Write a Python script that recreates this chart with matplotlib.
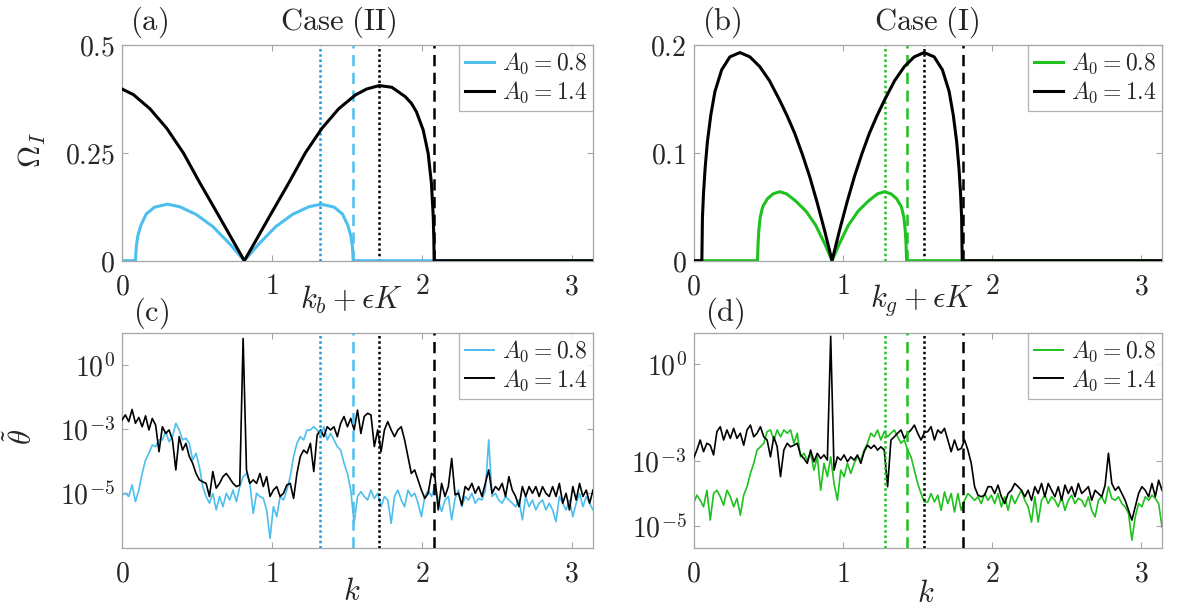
import numpy as np
import matplotlib
matplotlib.use("Agg")
import matplotlib.pyplot as plt

plt.rcParams['mathtext.fontset'] = 'cm'
plt.rcParams['font.family'] = ['DejaVu Serif']

# ---------------- data: top row (growth rates) ----------------
# panel (a), A0 = 0.8 (blue)
ka_blue = [0, 0.09, 0.092, 0.096, 0.106, 0.126, 0.161, 0.216, 0.303, 0.386, 0.496, 0.606, 0.716, 0.816,
           0.916, 1.026, 1.136, 1.246, 1.329, 1.416, 1.471, 1.506, 1.526, 1.536, 1.54, 1.542, np.pi]
Oa_blue = [0, 0, 0.015, 0.035, 0.058, 0.082, 0.108, 0.124, 0.131, 0.125, 0.107, 0.079, 0.040, 0.0,
           0.040, 0.079, 0.107, 0.125, 0.131, 0.124, 0.108, 0.082, 0.058, 0.035, 0.015, 0, 0]
# panel (a), A0 = 1.4 (black)
ka_black = [0, 0.076, 0.187, 0.298, 0.409, 0.52, 0.631, 0.742, 0.816, 0.89, 1.001, 1.112, 1.223, 1.334,
            1.445, 1.556, 1.632, 1.716, 1.80, 1.89, 1.93, 1.964, 2.009, 2.042, 2.064, 2.076, 2.080, 2.082, np.pi]
Oa_black = [0.398, 0.385, 0.352, 0.307, 0.25, 0.18, 0.113, 0.045, 0.0, 0.045, 0.113, 0.18, 0.25, 0.307,
            0.352, 0.384, 0.398, 0.406, 0.402, 0.380, 0.365, 0.345, 0.303, 0.249, 0.179, 0.102, 0.05, 0, 0]
# panel (b), A0 = 0.8 (green)
kb_green = [0, 0.429, 0.433, 0.438, 0.447, 0.464, 0.496, 0.534, 0.577, 0.624, 0.684, 0.754, 0.819, 0.879, 0.929,
            0.979, 1.039, 1.104, 1.174, 1.234, 1.281, 1.324, 1.362, 1.394, 1.411, 1.42, 1.425, 1.429, np.pi]
Ob_green = [0, 0, 0.016, 0.028, 0.040, 0.050, 0.0575, 0.062, 0.064, 0.062, 0.0555, 0.046, 0.033, 0.016, 0.0,
            0.016, 0.033, 0.046, 0.0555, 0.062, 0.064, 0.062, 0.0575, 0.050, 0.040, 0.028, 0.016, 0, 0]
# panel (b), A0 = 1.4 (black)
kb_black = [0, 0.056, 0.058, 0.06, 0.067, 0.078, 0.093, 0.116, 0.144, 0.189, 0.244, 0.311, 0.378, 0.444, 0.509,
            0.577, 0.629, 0.679, 0.729, 0.779, 0.829, 0.879, 0.929, 0.979, 1.029, 1.079, 1.129, 1.179, 1.229,
            1.281, 1.349, 1.414, 1.48, 1.547, 1.614, 1.669, 1.714, 1.742, 1.765, 1.78, 1.791, 1.798, 1.800,
            1.802, np.pi]
Ob_black = [0, 0, 0.02, 0.040, 0.062, 0.086, 0.110, 0.135, 0.157, 0.177, 0.189, 0.193, 0.189, 0.180, 0.167,
            0.149, 0.134, 0.118, 0.099, 0.078, 0.054, 0.028, 0.0, 0.028, 0.054, 0.078, 0.099, 0.118, 0.134,
            0.149, 0.167, 0.180, 0.189, 0.193, 0.189, 0.177, 0.157, 0.135, 0.110, 0.086, 0.062, 0.040, 0.02,
            0, 0]

# marker wavenumbers (vertical lines)
a_vlines = {'blue_dot': 1.324, 'blue_dash': 1.542, 'black_dot': 1.716, 'black_dash': 2.082}
b_vlines = {'green_dot': 1.282, 'green_dash': 1.433, 'black_dot': 1.549, 'black_dash': 1.807}

# ---------------- data: bottom row (spectra, log10 values on k grid) ----------------
k_spec = np.linspace(0, np.pi, 141)

theta_c_black_log = [
    -2.72, -2.56, -2.77, -2.39, -2.82, -2.64, -2.93, -2.59, -3.03, -2.67,
    -2.88, -3.71, -2.93, -3.14, -3.03, -3.34, -4.28, -3.24, -3.66, -3.45,
    -3.86, -4.07, -4.39, -4.59, -4.65, -4.70, -5.11, -4.33, -4.85, -4.70,
    -4.49, -4.39, -4.54, -4.70, -4.80, -4.75, -0.17, -4.28, -4.70, -4.59,
    -4.70, -4.39, -4.80, -4.49, -5.11, -4.91, -4.80, -5.11, -5.01, -4.75,
    -4.70, -5.17, -4.39, -3.86, -3.66, -3.76, -3.45, -4.33, -3.19, -3.03,
    -3.24, -2.93, -3.03, -2.93, -3.24, -2.82, -2.61, -2.93, -2.67, -3.03,
    -2.41, -3.14, -2.61, -2.51, -2.56, -3.55, -3.03, -3.71, -3.03, -2.77,
    -3.03, -3.24, -3.03, -2.93, -3.34, -3.86, -4.39, -4.28, -4.59, -4.91,
    -5.17, -5.01, -4.39, -4.49, -5.53, -4.70, -5.11, -4.80, -3.92, -5.06,
    -5.01, -5.38, -4.80, -4.91, -4.70, -5.01, -4.80, -5.11, -4.70, -4.28,
    -5.01, -4.80, -4.91, -4.70, -5.11, -4.49, -4.91, -5.11, -5.43, -4.80,
    -5.11, -4.80, -5.01, -4.80, -5.11, -4.80, -5.01, -5.11, -4.80, -5.11,
    -4.70, -5.32, -5.01, -5.53, -4.80, -5.22, -4.70, -5.11, -4.91, -5.32,
    -4.91]

theta_c_blue_log = [
    -5.06, -5.01, -5.11, -4.75, -5.27, -4.91, -4.39, -3.97, -3.76, -3.50,
    -3.55, -3.34, -3.34, -3.08, -3.40, -3.24, -2.82, -3.03, -3.34, -3.29,
    -3.45, -3.97, -3.76, -4.18, -4.80, -5.11, -5.32, -5.01, -5.53, -5.11,
    -5.43, -5.01, -5.22, -4.91, -5.27, -4.80, -4.49, -4.39, -4.70, -5.64,
    -5.01, -5.11, -5.17, -5.53, -6.42, -5.43, -5.74, -5.11, -5.22, -4.91,
    -4.49, -3.86, -3.45, -3.24, -3.34, -3.03, -3.03, -2.93, -3.03, -3.24,
    -2.93, -3.34, -3.14, -3.34, -3.55, -3.66, -4.07, -4.39, -4.91, -5.95,
    -5.11, -4.96, -5.11, -5.22, -4.91, -5.17, -5.01, -5.43, -5.11, -5.22,
    -5.95, -5.11, -4.91, -5.22, -5.43, -4.91, -5.11, -5.01, -5.32, -5.74,
    -5.11, -4.91, -5.11, -4.80, -5.22, -5.58, -5.22, -5.11, -5.84, -5.17,
    -4.91, -5.43, -5.11, -5.22, -5.01, -5.32, -5.17, -5.22, -4.91, -3.34,
    -5.11, -5.01, -5.22, -5.32, -5.11, -5.22, -5.32, -5.43, -5.22, -5.84,
    -5.11, -5.43, -5.22, -5.53, -5.32, -5.22, -5.53, -5.32, -5.53, -5.90,
    -5.11, -5.32, -5.53, -5.22, -5.74, -5.32, -5.01, -5.43, -5.11, -5.32,
    -5.53]

theta_d_black_log = [
    -2.92, -2.66, -2.35, -2.71, -2.45, -2.51, -2.81, -2.09, -1.94, -2.35,
    -2.04, -2.30, -1.99, -2.30, -2.14, -2.51, -2.04, -1.89, -2.25, -2.14,
    -1.94, -2.25, -2.35, -2.87, -2.25, -2.56, -3.48, -2.66, -2.45, -2.56,
    -2.51, -2.45, -2.81, -2.92, -3.07, -2.66, -3.02, -2.76, -2.92, -2.81,
    -2.97, 0.85, -3.28, -2.87, -2.97, -2.81, -3.02, -2.87, -2.97, -2.81,
    -3.07, -2.71, -2.51, -2.61, -2.51, -2.66, -2.56, -2.66, -3.79, -2.35,
    -2.25, -2.14, -2.04, -2.30, -2.14, -2.04, -1.89, -2.14, -2.35, -2.12,
    -2.09, -1.94, -2.35, -2.04, -2.14, -1.99, -2.35, -2.71, -2.35, -2.66,
    -2.61, -2.35, -2.66, -3.07, -3.79, -4.05, -4.10, -4.05, -3.79, -3.79,
    -4.00, -3.74, -4.10, -4.31, -4.00, -3.90, -3.69, -3.79, -3.90, -4.10,
    -3.90, -4.21, -3.79, -4.00, -3.69, -4.10, -3.69, -3.90, -4.10, -3.79,
    -4.21, -3.74, -4.00, -3.79, -4.10, -3.69, -4.00, -3.90, -3.79, -4.21,
    -3.90, -4.00, -4.10, -3.74, -2.76, -3.69, -3.90, -3.79, -4.00, -4.21,
    -4.52, -4.82, -4.41, -4.00, -3.79, -3.90, -4.10, -3.69, -4.10, -3.59,
    -3.90]

theta_d_green_log = [
    -4.31, -4.05, -4.21, -4.41, -3.90, -4.82, -4.00, -3.90, -4.10, -4.36,
    -3.90, -4.10, -4.41, -4.15, -4.67, -4.05, -3.79, -3.38, -3.07, -2.66,
    -2.56, -2.45, -2.09, -2.04, -2.35, -2.04, -2.25, -2.04, -2.14, -2.04,
    -2.45, -2.14, -2.87, -2.76, -2.97, -2.76, -3.28, -2.87, -3.90, -3.07,
    -3.48, -2.87, -3.69, -4.21, -3.28, -3.48, -3.07, -3.38, -3.07, -2.87,
    -2.97, -2.66, -2.45, -2.14, -2.25, -2.04, -2.35, -2.09, -2.25, -2.14,
    -2.04, -2.25, -2.45, -2.35, -2.66, -2.87, -3.28, -3.69, -4.00, -4.26,
    -4.26, -4.00, -4.26, -4.05, -4.52, -3.95, -4.31, -4.00, -4.57, -4.00,
    -4.52, -4.21, -4.00, -4.10, -4.21, -4.10, -4.31, -4.00, -4.21, -4.05,
    -4.31, -4.00, -4.41, -4.10, -4.52, -4.05, -4.31, -4.10, -3.90, -4.21,
    -4.41, -4.88, -4.10, -4.88, -4.21, -4.05, -4.31, -4.10, -4.21, -4.41,
    -4.10, -4.52, -4.21, -4.05, -4.31, -4.15, -4.21, -4.41, -4.10, -4.52,
    -4.72, -4.21, -4.10, -4.31, -3.79, -4.15, -4.21, -4.10, -4.31, -4.41,
    -4.62, -5.44, -4.72, -4.31, -4.41, -4.10, -4.21, -4.05, -4.15, -4.31,
    -5.03]

x_ticks = [0, 1, 2, 3]
x_ticklabels = ['$0$', '$1$', '$2$', '$3$']

BLUE = '#4DBEEE'
BLUE_DOT = '#1E9AD6'
GREEN = '#1EC11E'
BLACK = '#000000'
SPINE = '#a6a6a6'
TXT = '#262626'

W, H = 1184, 614
fig = plt.figure(figsize=(W / 100, H / 100), dpi=100)

def rect(x0, y0, x1, y1):
    return [x0 / W, 1 - y1 / H, (x1 - x0) / W, (y1 - y0) / H]

axA = fig.add_axes(rect(122, 45, 593, 260.7))
axB = fig.add_axes(rect(693.5, 45, 1162, 260.7))
axC = fig.add_axes(rect(122, 332.7, 593, 548.3))
axD = fig.add_axes(rect(693.5, 332.7, 1162, 548.3))

def style(ax):
    for s in ax.spines.values():
        s.set_color(SPINE)
        s.set_linewidth(0.9)
    ax.tick_params(which='both', direction='in', length=4, width=0.8, color=SPINE,
                   top=True, right=True, labelsize=20, labelcolor=TXT)
    ax.tick_params(axis='x', pad=9)
    ax.tick_params(axis='y', pad=5)
    ax.tick_params(which='minor', length=0)
    ax.set_xlim(0, np.pi)
    ax.set_xticks(x_ticks)
    ax.set_xticklabels(x_ticklabels)

def legend(ax, lw):
    leg = ax.legend(loc='upper right', fontsize=17, frameon=True, fancybox=False,
                    borderaxespad=0, handlelength=1.25, handletextpad=0.3,
                    labelspacing=0.15, borderpad=0.25)
    leg.get_frame().set_edgecolor('#a0a0a0')
    leg.get_frame().set_linewidth(0.9)
    for t in leg.get_texts():
        t.set_color(TXT)
    for l in leg.get_lines():
        l.set_linewidth(lw)

DOT = (0, (1.0, 1.1))
DASH = (0, (4.5, 2.6))

# ---- (a)
ax = axA
ax.axvline(a_vlines['blue_dot'], color=BLUE_DOT, ls=DOT, lw=1.8, zorder=1)
ax.axvline(a_vlines['blue_dash'], color=BLUE, ls=DASH, lw=1.8, zorder=1)
ax.axvline(a_vlines['black_dot'], color=BLACK, ls=DOT, lw=1.8, zorder=1)
ax.axvline(a_vlines['black_dash'], color=BLACK, ls=DASH, lw=1.8, zorder=1)
ax.plot(ka_blue, Oa_blue, color=BLUE, lw=2.2, label='$A_0=0.8$', zorder=2)
ax.plot(ka_black, Oa_black, color=BLACK, lw=2.2, label='$A_0=1.4$', zorder=3)
style(ax)
ax.set_ylim(0, 0.5)
ax.set_yticks([0, 0.25, 0.5])
ax.set_yticklabels(['$0$', '$0.25$', '$0.5$'])
legend(ax, 2.2)

# ---- (b)
ax = axB
ax.axvline(b_vlines['green_dot'], color=GREEN, ls=DOT, lw=1.8, zorder=1)
ax.axvline(b_vlines['green_dash'], color=GREEN, ls=DASH, lw=1.8, zorder=1)
ax.axvline(b_vlines['black_dot'], color=BLACK, ls=DOT, lw=1.8, zorder=1)
ax.axvline(b_vlines['black_dash'], color=BLACK, ls=DASH, lw=1.8, zorder=1)
ax.plot(kb_green, Ob_green, color=GREEN, lw=2.2, label='$A_0=0.8$', zorder=2)
ax.plot(kb_black, Ob_black, color=BLACK, lw=2.2, label='$A_0=1.4$', zorder=3)
style(ax)
ax.set_ylim(0, 0.2)
ax.set_yticks([0, 0.1, 0.2])
ax.set_yticklabels(['$0$', '$0.1$', '$0.2$'])
legend(ax, 2.2)

# ---- (c)
ax = axC
ax.plot(k_spec, 10.0 ** np.array(theta_c_blue_log), color=BLUE, lw=1.2, label='$A_0=0.8$', zorder=2)
ax.plot(k_spec, 10.0 ** np.array(theta_c_black_log), color=BLACK, lw=1.2, label='$A_0=1.4$', zorder=3)
ax.axvline(a_vlines['blue_dot'], color=BLUE_DOT, ls=DOT, lw=1.8, zorder=4)
ax.axvline(a_vlines['blue_dash'], color=BLUE, ls=DASH, lw=1.8, zorder=4)
ax.axvline(a_vlines['black_dot'], color=BLACK, ls=DOT, lw=1.8, zorder=4)
ax.axvline(a_vlines['black_dash'], color=BLACK, ls=DASH, lw=1.8, zorder=4)
ax.set_yscale('log')
style(ax)
ax.set_ylim(10 ** -6.73, 10 ** 0.01)
ax.set_yticks([1e-5, 1e-3, 1e-1])
ax.set_yticklabels(['$10^{-5}$', '$10^{-3}$', '$10^{0}$'])
ax.yaxis.set_minor_locator(matplotlib.ticker.NullLocator())
legend(ax, 1.4)

# ---- (d)
ax = axD
ax.plot(k_spec, 10.0 ** np.array(theta_d_green_log), color=GREEN, lw=1.2, label='$A_0=0.8$', zorder=2)
ax.plot(k_spec, 10.0 ** np.array(theta_d_black_log), color=BLACK, lw=1.2, label='$A_0=1.4$', zorder=3)
ax.axvline(b_vlines['green_dot'], color=GREEN, ls=DOT, lw=1.8, zorder=4)
ax.axvline(b_vlines['green_dash'], color=GREEN, ls=DASH, lw=1.8, zorder=4)
ax.axvline(b_vlines['black_dot'], color=BLACK, ls=DOT, lw=1.8, zorder=4)
ax.axvline(b_vlines['black_dash'], color=BLACK, ls=DASH, lw=1.8, zorder=4)
ax.set_yscale('log')
style(ax)
ax.set_ylim(10 ** -5.69, 10 ** 0.96)
ax.set_yticks([1e-5, 1e-3, 1e0])
ax.set_yticklabels(['$10^{-5}$', '$10^{-3}$', '$10^{0}$'])
ax.yaxis.set_minor_locator(matplotlib.ticker.NullLocator())
legend(ax, 1.4)

# ---- free text
def ftxt(x, y, s, size, **kw):
    fig.text(x / W, 1 - y / H, s, fontsize=size, ha='center', va='center', color=TXT, **kw)

ftxt(149, 22, r'$\mathrm{(a)}$', 22)
ftxt(338, 22, r'$\mathrm{Case\ (II)}$', 22)
ftxt(722, 22, r'$\mathrm{(b)}$', 22)
ftxt(927, 22, r'$\mathrm{Case\ (I)}$', 22)
ftxt(151, 313, r'$\mathrm{(c)}$', 22)
ftxt(725, 313, r'$\mathrm{(d)}$', 22)
ftxt(352, 300, r'$k_b+\epsilon K$', 22)
ftxt(922, 300, r'$k_g+\epsilon K$', 22)
ftxt(352, 592, r'$k$', 22)
ftxt(926, 594, r'$k$', 22)
ftxt(32, 150, r'$\Omega_I$', 22, rotation=90)
ftxt(22, 437, r'$\tilde{\theta}$', 22, rotation=90)

fig.savefig('out.png', dpi=100)
